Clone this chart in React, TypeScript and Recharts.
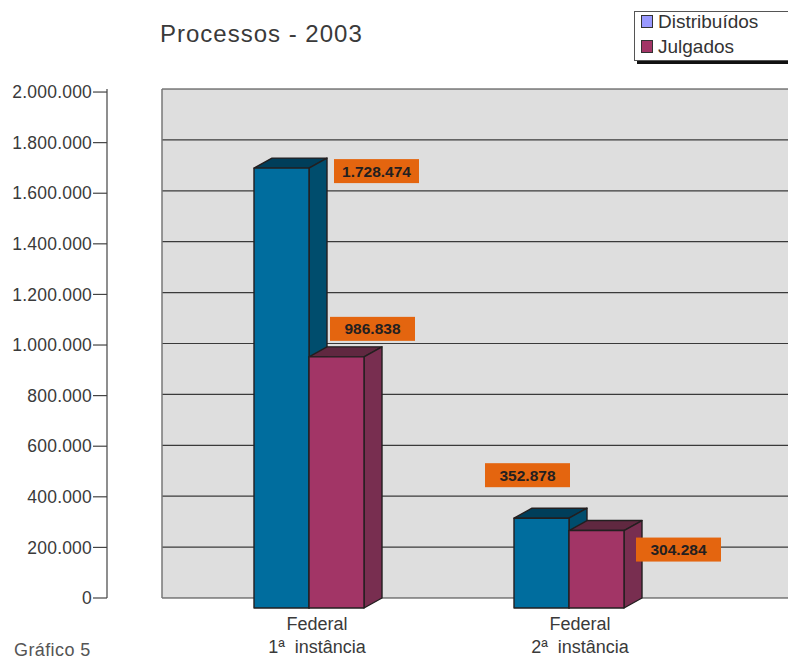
import React from 'react';
import { ComposedChart, Bar, Line, XAxis, YAxis, CartesianGrid, Legend, LabelList } from 'recharts';

const categories = ['Federal|1ª instância', 'Federal|2ª instância'];
const distribuidos = [1728474, 352878];
const julgados = [986838, 304284];
const yTicks = [0, 200000, 400000, 600000, 800000, 1000000, 1200000, 1400000, 1600000, 1800000, 2000000];

const chartData = categories.map((name, i) => ({
  name,
  distribuidos: distribuidos[i],
  julgados: julgados[i],
}));

const FONT = '"Liberation Sans", Arial, sans-serif';
const TEXT_COLOR = '#3a3a3a';
const DEPTH_X = 18;
const DEPTH_Y = 10;

// where each orange value box sits relative to the bar's back top corner
const distribuidosBoxes = [{ dx: 80, dy: 1 }, { dx: -29, dy: -45 }];
const julgadosBoxes = [{ dx: 21, dy: -30 }, { dx: 67, dy: 17 }];
const tickShift = [8, 11];

const formatNumber = (v: number) => String(v).replace(/\B(?=(\d{3})+$)/g, '.');

const bar3d = (front: string, top: string, side: string) => (props: any) => {
  const { x, y, width, height } = props;
  const fy = y + DEPTH_Y;
  const by = y + height + DEPTH_Y;
  const r = x + width;
  return (
    <g stroke="#231f20" strokeWidth={1.4} strokeLinejoin="round">
      <path d={`M${x},${fy}L${x + DEPTH_X},${y}L${r + DEPTH_X},${y}L${r},${fy}Z`} fill={top} />
      <path d={`M${r},${fy}L${r + DEPTH_X},${y}L${r + DEPTH_X},${by - DEPTH_Y}L${r},${by}Z`} fill={side} />
      <rect x={x} y={fy} width={width} height={height} fill={front} />
    </g>
  );
};

const valueBox = (offsets: { dx: number; dy: number }[]) => (props: any) => {
  const { x, y, value, index } = props;
  const { dx, dy } = offsets[index];
  return (
    <g>
      <rect x={x + dx} y={y + dy} width={85} height={24} fill="#e4650f" />
      <text
        x={x + dx + 42.5}
        y={y + dy + 17.5}
        textAnchor="middle"
        fontFamily={FONT}
        fontSize={15.5}
        fontWeight="bold"
        fill="#231f20"
      >
        {formatNumber(value)}
      </text>
    </g>
  );
};

const CategoryTick = (props: any) => {
  const { x, y, payload, index } = props;
  const [line1, line2] = payload.value.split('|');
  const cx = x + tickShift[index];
  return (
    <text textAnchor="middle" fontFamily={FONT} fontSize={18} wordSpacing={5} fill={TEXT_COLOR}>
      <tspan x={cx} y={y + 24}>{line1}</tspan>
      <tspan x={cx} y={y + 47}>{line2}</tspan>
    </text>
  );
};

const LegendBox = () => (
  <div
    style={{
      position: 'absolute',
      left: 634,
      top: 11,
      width: 160,
      height: 50,
      boxSizing: 'border-box',
      background: '#fff',
      border: '1px solid #555',
      boxShadow: '3px 3px 0 #111',
      fontFamily: FONT,
      fontSize: 19,
      color: '#333',
    }}
  >
    {[
      { label: 'Distribuídos', color: '#9999ff', shiftY: -3 },
      { label: 'Julgados', color: '#a23566', shiftY: 0 },
    ].map((item) => (
      <div key={item.label} style={{ display: 'flex', alignItems: 'center', height: 25, paddingLeft: 6, marginTop: item.shiftY }}>
        <span
          style={{
            width: 10,
            height: 11,
            marginRight: 5,
            background: item.color,
            border: '1px solid #333',
          }}
        />
        {item.label}
      </div>
    ))}
  </div>
);

export default function App() {
  return (
    <div style={{ position: 'absolute', left: 0, top: 0, width: 788, height: 659, overflow: 'hidden', background: '#fff' }}>
      <ComposedChart
        width={788}
        height={659}
        data={chartData}
        barSize={55}
        barGap={0}
        barCategoryGap={0}
        margin={{ top: 89, right: 0, bottom: 0, left: 0 }}
      >
        <CartesianGrid yAxisId="plot" vertical={false} fill="#dedede" stroke="#3a3a3a" strokeWidth={1.2} />
        <XAxis
          dataKey="name"
          height={61}
          interval={0}
          axisLine={false}
          tickLine={false}
          padding={{ left: 17, right: 89 }}
          tick={CategoryTick}
        />
        <YAxis
          yAxisId="plot"
          width={55}
          domain={[0, 2000000]}
          ticks={yTicks}
          interval={0}
          tick={() => <g />}
          tickLine={false}
          axisLine={{ stroke: '#777', strokeWidth: 1.5 }}
        />
        <YAxis
          yAxisId="scale"
          width={107}
          domain={[0, 2012000]}
          ticks={yTicks}
          interval={0}
          tickSize={14}
          tickMargin={1}
          tickFormatter={formatNumber}
          axisLine={{ stroke: '#444', strokeWidth: 1.2 }}
          tickLine={{ stroke: '#444', strokeWidth: 1.2 }}
          tick={{ fontFamily: FONT, fontSize: 17.5, letterSpacing: 0.2, fill: TEXT_COLOR }}
        />
        <Legend content={LegendBox} wrapperStyle={{ left: 0, top: 0, bottom: 'auto', width: 0, height: 0 }} />
        {/* invisible, only keeps the outer scale axis alive */}
        <Line
          yAxisId="scale"
          dataKey="distribuidos"
          stroke="none"
          dot={false}
          legendType="none"
          isAnimationActive={false}
        />
        <Bar
          yAxisId="plot"
          dataKey="distribuidos"
          isAnimationActive={false}
          shape={bar3d('#006d9e', '#003e5a', '#004d6d')}
        >
          <LabelList dataKey="distribuidos" content={valueBox(distribuidosBoxes)} />
        </Bar>
        <Bar
          yAxisId="plot"
          dataKey="julgados"
          isAnimationActive={false}
          shape={bar3d('#a23566', '#602840', '#782e50')}
        >
          <LabelList dataKey="julgados" content={valueBox(julgadosBoxes)} />
        </Bar>
        <text x={160} y={42} fontFamily={FONT} fontSize={24} letterSpacing={1} fill={TEXT_COLOR}>
          Processos - 2003
        </text>
        <text x={14} y={656} fontFamily={FONT} fontSize={18} letterSpacing={0.4} fill="#555">
          Gráfico 5
        </text>
      </ComposedChart>
    </div>
  );
}
